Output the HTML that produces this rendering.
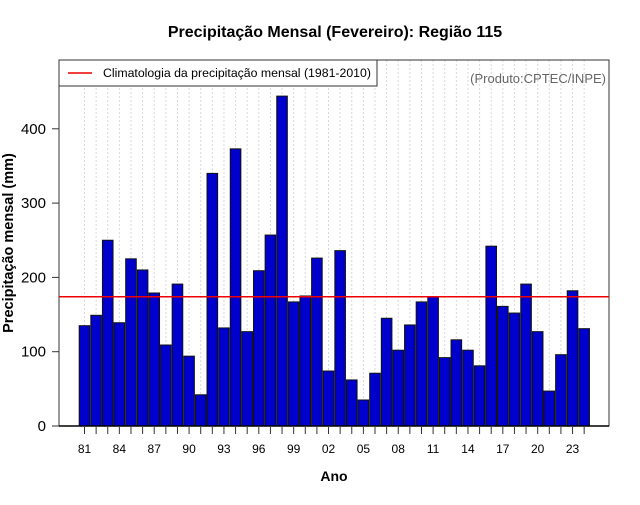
<!DOCTYPE html>
<html><head><meta charset="utf-8"><style>
body{margin:0;background:#fff;font-family:"Liberation Sans",sans-serif}
</style></head><body>
<svg id="c" width="640" height="500" xmlns="http://www.w3.org/2000/svg" font-family="Liberation Sans, sans-serif">
<text x="335" y="37" text-anchor="middle" font-size="16" font-weight="bold">Precipitação Mensal (Fevereiro): Região 115</text>
<g id="grid"></g>
<g id="bars"></g>
<g id="axes"></g>
<rect x="59" y="60" width="318" height="26" fill="#fff" stroke="#333"/>
<line x1="68" y1="73" x2="92" y2="73" stroke="#e00" stroke-width="1.5"/>
<text x="103" y="77" font-size="12.3">Climatologia da precipitação mensal (1981-2010)</text>
<text x="606" y="83" text-anchor="end" font-size="13" fill="#666">(Produto:CPTEC/INPE)</text>
<text x="334" y="481" text-anchor="middle" font-size="14" font-weight="bold">Ano</text>
<text transform="translate(13,243) rotate(-90)" text-anchor="middle" font-size="14.5" font-weight="bold">Precipitação mensal (mm)</text>
</svg>
<script>
const years=[1981,1982,1983,1984,1985,1986,1987,1988,1989,1990,1991,1992,1993,1994,1995,1996,1997,1998,1999,2000,2001,2002,2003,2004,2005,2006,2007,2008,2009,2010,2011,2012,2013,2014,2015,2016,2017,2018,2019,2020,2021,2022,2023,2024];
const values=[135,149,250,139,225,210,179,109,191,94,42,340,132,373,127,209,257,444,167,175,226,74,236,62,35,71,145,102,136,167,174,92,116,102,81,242,161,152,191,127,47,96,182,131];
const climatology=[174];
const yTicks=[0,100,200,300,400];
const NS="http://www.w3.org/2000/svg";
const x=i=>84.5+i*11.62;
const y=v=>426-v*0.743;
function mk(t,a,p){const e=document.createElementNS(NS,t);for(const k in a)e.setAttribute(k,a[k]);p.appendChild(e);return e;}
const G=document.getElementById('grid'),B=document.getElementById('bars'),A=document.getElementById('axes');
years.forEach((yr,i)=>{
  const g=mk('line',{x1:x(i),x2:x(i),y1:60,y2:426,stroke:'#d8d8d8','stroke-dasharray':'2,2'},G);
  
  
  const r=mk('rect',{x:x(i)-5.3,y:y(values[i]),width:10.6,height:426-y(values[i]),fill:'#0000cd',stroke:'#111','stroke-width':1},B);
  
  
  const t=mk('line',{x1:x(i),x2:x(i),y1:427,y2:434,stroke:'#333'},A);
  
  
  if(i%3===0){const l=mk('text',{x:x(i),y:453,'text-anchor':'middle','font-size':12},A);l.textContent=String(yr).slice(2);
  
  }
});
mk('rect',{x:59,y:60,width:550,height:366,fill:'none',stroke:'#333'},A);
mk('line',{x1:59,x2:609,y1:426,y2:426,stroke:'#000','stroke-width':1.5},A);
yTicks.forEach(v=>{
  const t=mk('line',{x1:52,x2:59,y1:y(v),y2:y(v),stroke:'#333'},A);
  
  
  const l=mk('text',{x:46,y:y(v)+5,'text-anchor':'end','font-size':15},A);l.textContent=v;
  
  
});
const c=mk('line',{x1:59,x2:609,y1:y(climatology[0]),y2:y(climatology[0]),stroke:'#e00','stroke-width':1.5},A);


</script>
</body></html>
